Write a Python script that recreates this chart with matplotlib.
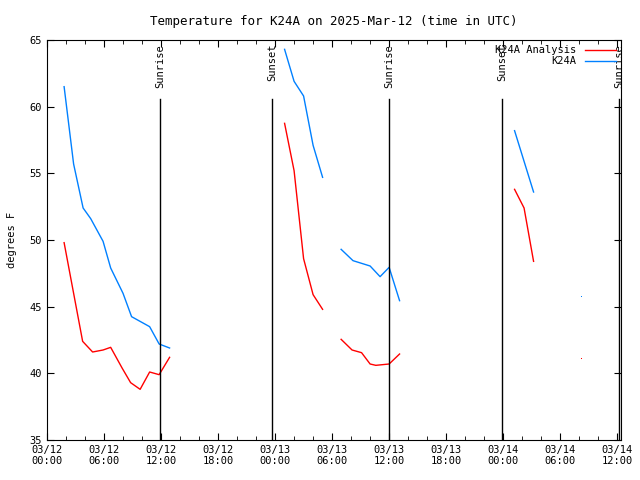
import numpy as np
import matplotlib
matplotlib.use('Agg')
import matplotlib.pyplot as plt

# hours since 2025-03-12 00:00 UTC, nan breaks the line
analysisHours = [1.8, 3.75, 4.8, 5.9, 6.7, 7.9, 8.8, 9.8, 10.8, 11.8, 12.9, np.nan,
                 25.0, 26.0, 27.0, 28.0, 29.0, np.nan,
                 30.95, 32.1, 33.1, 34.0, 34.6, 36.0, 37.1, np.nan,
                 49.2, 50.2, 51.2, np.nan, 56.2]
analysisTemps = [49.8, 42.4, 41.6, 41.75, 41.95, 40.4, 39.3, 38.8, 40.1, 39.9, 41.2, np.nan,
                 58.75, 55.2, 48.6, 45.9, 44.8, np.nan,
                 42.55, 41.75, 41.55, 40.7, 40.6, 40.7, 41.45, np.nan,
                 53.8, 52.4, 48.4, np.nan, 41.1]

obsHours = [1.8, 2.8, 3.8, 4.6, 5.9, 6.7, 8.0, 8.9, 10.8, 11.8, 12.9, np.nan,
            25.0, 26.0, 27.0, 28.0, 29.0, np.nan,
            30.95, 32.2, 34.0, 35.05, 36.0, 37.1, np.nan,
            49.2, 50.2, 51.2, np.nan, 56.2]
obsTemps = [61.5, 55.7, 52.4, 51.6, 49.9, 47.9, 46.0, 44.25, 43.5, 42.2, 41.9, np.nan,
            64.3, 61.9, 60.8, 57.1, 54.7, np.nan,
            49.3, 48.45, 48.05, 47.25, 47.95, 45.45, np.nan,
            58.2, 55.9, 53.6, np.nan, 45.7]

sunEvents = [(11.9, 'Sunrise'), (23.7, 'Sunset'), (36.0, 'Sunrise'), (47.9, 'Sunset'), (60.2, 'Sunrise')]

tickHours = list(range(0, 61, 6))
tickLabels = ['03/12\n00:00', '03/12\n06:00', '03/12\n12:00', '03/12\n18:00',
              '03/13\n00:00', '03/13\n06:00', '03/13\n12:00', '03/13\n18:00',
              '03/14\n00:00', '03/14\n06:00', '03/14\n12:00']

plt.rcParams['font.family'] = 'DejaVu Sans Mono'
plt.rcParams['font.size'] = 7.5

fig = plt.figure(figsize=(6.4, 4.8), dpi=100)
ax = fig.add_axes([47 / 640, 40 / 480, 574 / 640, 400 / 480])

ax.plot(analysisHours, analysisTemps, color='#ff0000', lw=1, label='K24A Analysis')
ax.plot(obsHours, obsTemps, color='#0080ff', lw=1, label='K24A')
# isolated points
ax.plot([analysisHours[-1]], [analysisTemps[-1]], ',', color='#ff0000')
ax.plot([obsHours[-1]], [obsTemps[-1]], ',', color='#0080ff')

for h, name in sunEvents:
    ax.plot([h, h], [35, 60.6], color='black', lw=1)
    ax.text(h, 64.7, name, rotation=90, ha='center', va='top')

ax.set_xlim(0, 60.4)
ax.set_ylim(35, 65)
ax.set_xticks(tickHours)
ax.set_xticklabels(tickLabels)
ax.set_xticks(range(0, 61, 2), minor=True)
ax.set_yticks(range(35, 66, 5))
ax.tick_params(direction='in', top=True, right=True, which='both')
ax.tick_params(which='major', length=5)
ax.tick_params(which='minor', length=3)
ax.set_ylabel('degrees F', labelpad=9)
ax.set_title('Temperature for K24A on 2025-Mar-12 (time in UTC)', pad=11)
ax.legend(loc='upper right', frameon=False, markerfirst=False, handlelength=3,
          borderaxespad=0.1, labelspacing=0.1, handletextpad=0.8)

fig.savefig('out.png', dpi=100)
